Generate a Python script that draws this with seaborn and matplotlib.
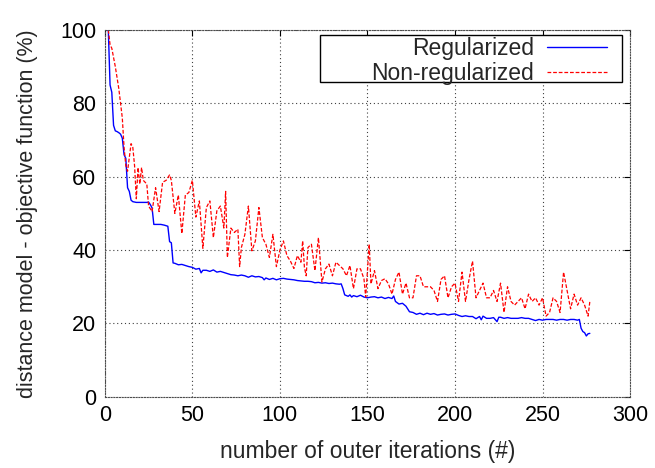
import matplotlib
matplotlib.use("Agg")
import matplotlib.pyplot as plt
import matplotlib.patches as mpatches
import seaborn as sns
import pandas as pd


# =========================================
# DATA
# =========================================

reg_iter = [1, 2, 3, 4, 5, 6, 7, 8, 9, 10, 11, 12, 13, 14, 15, 16, 18, 20, 22, 24,
            25, 26, 27, 28, 30, 32, 34, 36, 37, 38, 39, 40, 42, 44, 46, 48, 50, 52, 54, 55,
            56, 58, 60, 62, 64, 66, 68, 70, 72, 74, 76, 78, 80, 82, 84, 86, 88, 90, 91, 92,
            94, 96, 98, 100, 102, 104, 106, 108, 110, 112, 114, 116, 118, 120, 122, 124, 126, 128, 130, 132,
            134, 135, 136, 137, 138, 139, 140, 141, 142, 144, 146, 148, 150, 152, 154, 156, 158, 160, 162, 164,
            165, 166, 168, 170, 172, 174, 176, 178, 180, 182, 184, 186, 188, 190, 192, 194, 196, 198, 200, 202,
            204, 206, 208, 210, 212, 214, 215, 216, 218, 220, 222, 224, 225, 226, 228, 230, 232, 234, 236, 238,
            240, 242, 244, 246, 248, 250, 252, 254, 256, 258, 260, 262, 264, 266, 268, 270, 271, 272, 273, 274,
            275, 276, 277]

reg_val = [100, 100, 85, 83, 74, 72.5, 72.3, 72, 71.6, 70.5, 66, 65, 57, 56, 53.6, 53.2, 53, 53, 53, 53,
           53.1, 52.4, 51.5, 47, 47, 47, 46.8, 46.5, 42.3, 42, 36.5, 36.4, 36, 36.1, 35.8, 35.5, 35.3, 34.8, 35, 33.8,
           34.5, 34.5, 34.2, 34.6, 34, 34.2, 33.9, 33.6, 33.3, 33.2, 33, 33.2, 33, 32.6, 33, 32.7, 32.8, 32.5, 31.9, 32.4,
           32, 32.3, 31.9, 32.2, 32.3, 32.1, 32, 31.9, 31.7, 31.6, 31.5, 31.5, 31.4, 31.1, 31.2, 31, 31.1, 30.9, 31, 30.8,
           30.7, 30.8, 29.5, 27.8, 27.6, 27.4, 27.8, 27.2, 27.6, 27.3, 27.7, 27.2, 27, 27.2, 27.3, 27, 27.2, 26.8, 27.1, 26.8,
           27.5, 26, 25.3, 25.5, 24.7, 23.2, 23, 22.5, 22.8, 22.4, 22.8, 22.5, 22.7, 22.3, 22.5, 22.6, 22.3, 22.5, 22.6, 22.2,
           21.9, 22.1, 21.9, 21.9, 21.3, 21.9, 21, 22, 21.4, 21.4, 21.6, 20.5, 21.7, 21.7, 21.4, 21.6, 21.4, 21.4, 21.4, 21.6,
           21.4, 21.4, 21.1, 20.8, 21.1, 20.9, 21.1, 21.1, 21.1, 20.9, 21.1, 21.1, 20.9, 21.1, 21.1, 20.9, 21.1, 18.7, 17.8, 17.5,
           16.6, 17.2, 17.3]

nonreg_iter = [2, 3, 4, 6, 8, 10, 11, 12, 13, 15, 16, 17, 18, 19, 20, 21, 22, 24, 25, 27,
               29, 31, 33, 35, 37, 38, 40, 42, 44, 46, 48, 50, 52, 54, 56, 58, 60, 62, 64, 66,
               68, 69, 70, 72, 74, 76, 77, 78, 80, 82, 84, 86, 88, 90, 92, 94, 96, 98, 100, 102,
               104, 106, 108, 110, 112, 113, 114, 115, 116, 118, 120, 122, 124, 126, 128, 130, 132, 134, 136, 138,
               140, 142, 144, 146, 148, 149, 151, 152, 154, 156, 158, 160, 162, 164, 166, 168, 170, 172, 174, 176,
               178, 180, 182, 184, 186, 188, 190, 192, 194, 196, 198, 200, 202, 204, 206, 208, 210, 212, 214, 216,
               218, 220, 222, 224, 226, 228, 230, 232, 234, 236, 238, 240, 242, 244, 246, 248, 250, 252, 254, 256,
               258, 260, 262, 264, 266, 268, 270, 272, 274, 276, 277]

nonreg_val = [100, 96, 95, 90, 84, 76, 68, 63, 61.5, 69, 68, 63, 54, 62.5, 58, 62.5, 59, 58, 52, 50.5,
              57, 50.5, 58.5, 59, 60.5, 59, 50, 55, 44.5, 55, 55.7, 59, 49, 53.4, 40.5, 51.6, 53.4, 43.4, 50.7, 52,
              46, 56, 38, 46, 44.8, 45.7, 35.5, 40.7, 44.3, 52, 39.8, 42.5, 51.6, 43.4, 41.6, 38, 44.3, 35.5, 40, 42.5,
              38.5, 37, 35, 38.5, 36.7, 42.5, 35.3, 33, 40.7, 41.6, 34.4, 43.4, 31.3, 34.9, 36.2, 33, 36.7, 35.8, 34.9, 33,
              35.8, 29.5, 34.9, 34.9, 32.2, 27.2, 41.6, 30.8, 34.4, 29.5, 31.7, 32.2, 30.8, 28, 32, 34, 28, 31, 27, 27,
              33, 33, 30, 30, 30, 29, 26, 32, 33, 27, 30, 31, 26, 34, 26, 32, 37, 27, 29, 31,
              27, 27, 29, 26, 31, 23, 30, 26, 25, 26, 27, 24, 28, 26, 27, 25, 27, 22, 23, 27,
              26, 23, 34, 29, 24, 28, 25, 27, 25, 22, 26]

reg_df = pd.DataFrame({"iteration": reg_iter, "distance": reg_val})
nonreg_df = pd.DataFrame({"iteration": nonreg_iter, "distance": nonreg_val})


# =========================================
# STYLE
# =========================================

sns.set_style("white")
plt.rcParams["font.family"] = ["Liberation Sans", "DejaVu Sans"]


# =========================================
# PLOT
# =========================================

fig = plt.figure(figsize=(6.55, 4.68), dpi=100)
ax = fig.add_axes([0.160, 0.152, 0.802, 0.784])

sns.lineplot(
    data=reg_df,
    x="iteration",
    y="distance",
    color="#0000ff",
    linewidth=1.0,
    label="Regularized",
    ax=ax
)

sns.lineplot(
    data=nonreg_df,
    x="iteration",
    y="distance",
    color="#ff0000",
    linewidth=0.9,
    linestyle=(0, (3, 1.5)),
    label="Non-regularized",
    ax=ax
)

ax.set_xlim(0, 300)
ax.set_ylim(0, 100)
ax.set_xticks(range(0, 301, 50))
ax.set_yticks(range(0, 101, 20))

ax.grid(True, color="0.25", linestyle=(0, (1, 2.5)), linewidth=0.8)

ax.tick_params(direction="in", length=4, width=0.8, top=True, right=True,
               labelsize=15.5, pad=6, colors="black")

for spine in ax.spines.values():
    spine.set_color("0.3")
    spine.set_linewidth(0.8)
    spine.set_linestyle((0, (1, 1.5)))

ax.set_xlabel("number of outer iterations (#)", fontsize=16.5, labelpad=10)
ax.set_ylabel("distance model - objective function (%)", fontsize=15.5, labelpad=16)

# gnuplot-like key: white box with black border, text right-aligned
key_box = mpatches.Rectangle(
    (0.4095, 0.858), 0.576, 0.128,
    transform=ax.transAxes,
    facecolor="white",
    edgecolor="black",
    linewidth=1.0,
    zorder=5
)
ax.add_patch(key_box)

legend = ax.legend(
    loc="upper right",
    bbox_to_anchor=(0.956, 0.982),
    markerfirst=False,
    frameon=False,
    fontsize=16.5,
    handlelength=2.6,
    borderpad=0,
    labelspacing=0.1,
    borderaxespad=0,
    handletextpad=0.6
)
legend.set_zorder(6)

plt.savefig("out.png", dpi=100)
